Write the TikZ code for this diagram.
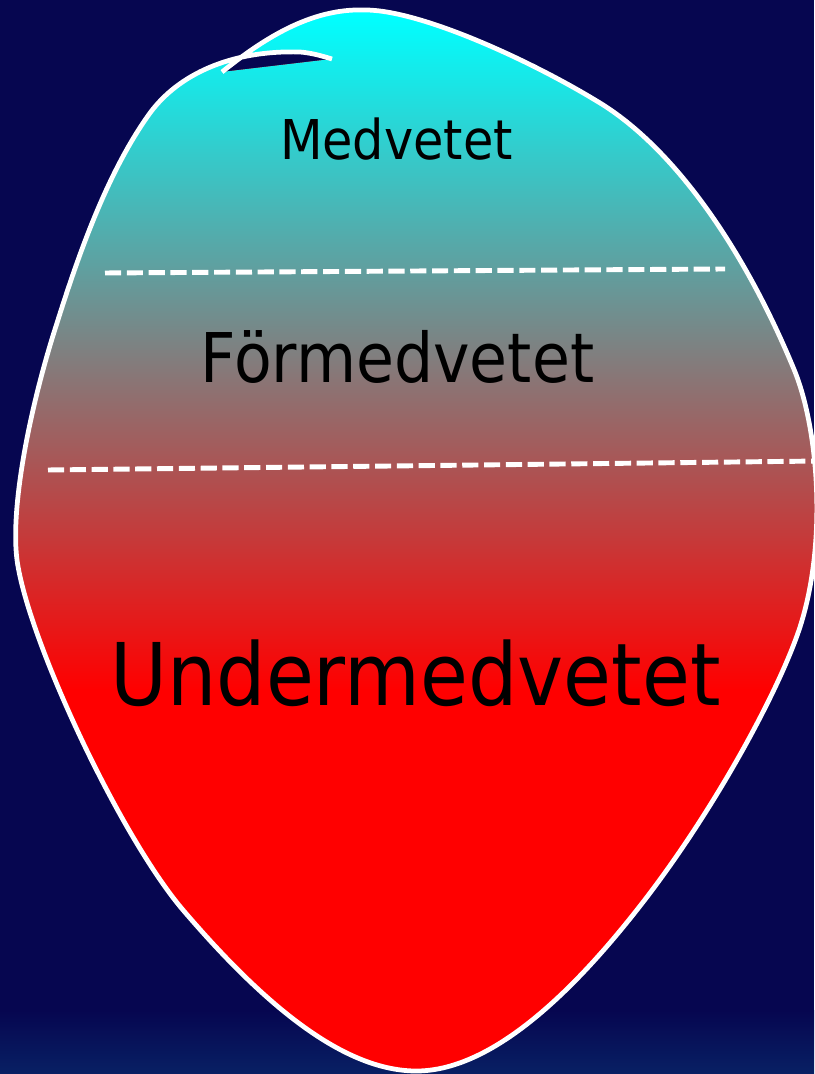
\documentclass[tikz,border=0pt]{standalone}
\usepackage{fontspec}
\newfontfamily\mindfont[FakeStretch=0.9]{DejaVu Sans}
\usepackage{tikz}
\usepackage{xcolor}
\definecolor{bgnavy}{RGB}{6, 6, 80}
\definecolor{bgdeep}{RGB}{8, 32, 100}
\definecolor{topcyan}{RGB}{0, 255, 255}
\definecolor{lowred}{RGB}{255, 0, 0}
% outline of the mind, drawn open (ends overlap at the top left)
\newcommand{\mindpath}{(222,72) .. controls (262,40) and (310,8) .. (365,10)
  .. controls (420,10) and (530,60) .. (600,103)
  .. controls (670,146) and (740,240) .. (793,367)
  .. controls (818,425) and (828,540) .. (800,627)
  .. controls (780,688) and (720,800) .. (650,893)
  .. controls (590,972) and (500,1072) .. (415,1071)
  .. controls (340,1070) and (260,1000) .. (183,910)
  .. controls (120,836) and (28,640) .. (17,560)
  .. controls (10,505) and (31,403) .. (57,323)
  .. controls (79,253) and (108,171) .. (150,113)
  .. controls (178,75) and (230,50) .. (300,52)
  .. controls (312,53) and (322,56) .. (332,59)}

\begin{document}
\begin{tikzpicture}[x=0.01cm, y=-0.01cm,
    zone/.style={font=\mindfont\fontsize{#1}{#1}\selectfont, inner sep=0pt,
      anchor=base, text=black},
    border/.style={white, line width=1.4pt, dash pattern=on 4.6pt off 1.6pt}]
  % Background
  \fill[bgnavy] (0,0) rectangle (814,1074);
  \shade[top color=bgnavy, bottom color=bgdeep] (0,1010) rectangle (814,1074);
  \useasboundingbox (0,0) rectangle (814,1074);

  % Mind, cyan at the top to red at the bottom
  \begin{scope}[even odd rule]
    \clip \mindpath -- cycle;
    \fill[lowred] (0,0) rectangle (830,1074);
    \shade[top color=topcyan, bottom color=lowred] (0,15) rectangle (830,690);
    \fill[topcyan] (0,0) rectangle (830,15);
  \end{scope}
  \draw[white, line width=1.35pt] \mindpath;

  % Borders between the levels
  \draw[border] (105,273) -- (725,269);
  \draw[border] (48,470) -- (820,461);

  % Levels
  \node[zone=15.6] (med) at (396.5,160) {Medvetet};
  \node[zone=19.5] (forMed) at (397.5,383) {Förmedvetet};
  \node[zone=24.6] (underMed) at (415.5,705) {Undermedvetet};
\end{tikzpicture}
\end{document}
